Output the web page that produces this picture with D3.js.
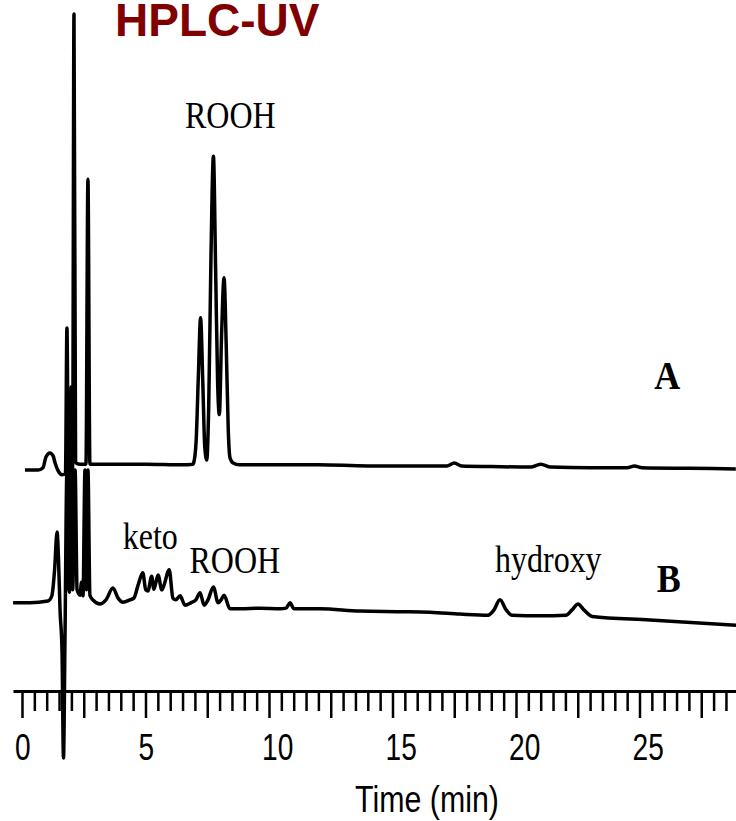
<!DOCTYPE html>
<html>
<head>
<meta charset="utf-8">
<script src="https://cdn.jsdelivr.net/npm/d3@7"></script>
<style>
  html, body { margin: 0; padding: 0; background: #fff; }
  svg { display: block; }
</style>
</head>
<body>
<svg id="chart" width="736" height="821"></svg>
<script>
// ---- data (time in min, signal in arbitrary absorbance units) ----
const timeA = [0.12, 0.65, 0.85, 0.97, 1.13, 1.26, 1.34, 1.46, 1.62, 1.76, 1.82, 1.88, 1.94, 2.05, 2.105, 2.17, 2.23, 2.35, 2.59, 2.67, 2.75, 3.0, 5.0, 6.5, 6.92,
  6.95, 7.05, 7.14, 7.23, 7.32, 7.40, 7.48, 7.56, 7.65, 7.75, 7.84, 7.92, 7.99, 8.08, 8.18, 8.27, 8.35, 8.42, 8.55, 8.8,
  10, 12, 14, 17.2, 17.5, 17.8, 19, 20.6, 21.0, 21.4, 23, 24.5, 24.8, 25.1, 27, 28.9];
const signalA = [-0.9, -0.9, -0.5, 1.3, 2.0, 1.5, 0.3, -1.0, -1.7, -1.5, 23.2, -1.5, -1.7, -1.0, 76.4, 0.5, 0.2, 0.1, 0.1, 48.4, 0.1, 0.1, 0.1, 0.0, 0.1,
  0.3, 4, 15, 24.9, 14, 3, 0.8, 10, 35, 52.3, 33, 14, 8.5, 22, 31.7, 20, 6, 1.2, 0.3, 0.0,
  0.0, 0.0, -0.2, -0.2, 0.3, -0.2, -0.3, -0.4, 0.1, -0.4, -0.5, -0.5, -0.2, -0.5, -0.6, -0.7];

const timeB = [-0.36, 0.32, 1.05, 1.21, 1.32, 1.42, 1.48, 1.54, 1.62, 1.68, 1.74, 1.82, 1.88, 1.92, 1.98, 2.05, 2.15, 2.23, 2.35, 2.41, 2.47, 2.55, 2.61, 2.67, 2.75, 2.87,
  3.16, 3.40, 3.68, 3.89, 4.09, 4.37, 4.53, 4.70, 4.89, 5.01, 5.10, 5.25, 5.34, 5.51, 5.66, 5.75, 5.96, 6.11, 6.23, 6.40, 6.60, 6.84,
  7.04, 7.21, 7.37, 7.53, 7.75, 7.94, 8.06, 8.18, 8.42, 8.83, 9.64, 10.45, 10.69, 10.85, 11.01, 12.06, 13.68, 15.30, 16.52, 17.73,
  18.87, 19.11, 19.35, 19.60, 19.84, 20.97, 22.02, 22.27, 22.51, 22.75, 23.08, 25.43, 28.91];
const signalB = [0.2, 0.2, 0.5, 1.4, 5.8, 12.2, 7.5, -1.0, -7.8, -26.1, -6.1, 22.7, 3.2, 2.0, 36.8, 2.4, 22.7, 2.4, 1.5, 3.7, 1.4, 22.7, 2.4, 22.7, 1.5, 0.7,
  0.0, 0.7, 2.7, 1.0, 0.3, 0.7, 1.0, 3.2, 5.3, 2.4, 2.2, 4.7, 2.5, 4.9, 2.4, 3.2, 5.8, 1.0, 0.7, 1.4, -0.2, 0.2,
  0.7, 1.9, -0.2, 0.7, 2.9, 0.2, 0.7, 1.5, -0.8, -0.8, -0.7, -0.8, -0.7, 0.2, -0.8, -0.8, -1.2, -1.3, -1.4, -1.7,
  -1.9, -1.0, 0.7, -1.0, -1.9, -2.0, -1.9, -1.0, 0.0, -1.0, -2.1, -2.7, -3.6];

const offsetA = 23.6;   // vertical offset of trace A (signal units)
const offsetB = 0;

const tickValues = d3.range(0, 29, 0.5);
const labelValues = [0, 5, 10, 15, 20, 25];
const titleText = "HPLC-UV";
const axisTitle = "Time (min)";
const peakLabels = [
  { text: "ROOH", t: 6.6, v: offsetA + 57 },
  { text: "keto", t: 4.08, v: 9.3 },
  { text: "ROOH", t: 6.78, v: 5.2 },
  { text: "hydroxy", t: 19.15, v: 5.5 }
];
const traceLabels = [
  { text: "A", t: 25.6, v: offsetA + 12.8 },
  { text: "B", t: 25.7, v: 2.0 }
];

// ---- scales ----
const svg = d3.select("#chart");
const x = d3.scaleLinear().domain([-0.364, 28.907]).range([13, 736]);
const y = d3.scaleLinear().domain([0, 100]).range([604, 14]);

// ---- axis ----
const axisY = 691;
const axis = d3.axisBottom(x).tickValues(tickValues).tickSize(20).tickSizeOuter(0).tickFormat("");
const gAxis = svg.append("g").attr("transform", `translate(0,${axisY})`).call(axis);
gAxis.select(".domain").attr("stroke", "#000").attr("stroke-width", 3);
gAxis.selectAll(".tick line")
  .attr("stroke", "#000").attr("stroke-width", 2.5)
  .attr("y2", d => (Math.abs(d / 2.5 - Math.round(d / 2.5)) < 1e-9 ? 27 : 20));

svg.append("g").selectAll("text").data(labelValues).join("text")
  .attr("transform", d => `translate(${x(d) - 7},760) scale(0.76,1)`)
  .attr("font-family", "'Liberation Sans', Arial, sans-serif")
  .attr("font-size", 37)
  .attr("fill", "#000")
  .text(d => d);

svg.append("text")
  .attr("transform", `translate(427,812) scale(0.82,1)`)
  .attr("text-anchor", "middle")
  .attr("font-family", "'Liberation Sans', Arial, sans-serif")
  .attr("font-size", 37)
  .attr("fill", "#000")
  .text(axisTitle);

// ---- traces ----
const line = d3.line().x(d => x(d[0])).y(d => y(d[1])).curve(d3.curveMonotoneX);
const dataA = timeA.map((t, i) => [t, signalA[i] + offsetA]);
const dataB = timeB.map((t, i) => [t, signalB[i] + offsetB]);

svg.append("path").datum(dataB).attr("d", line)
  .attr("fill", "none").attr("stroke", "#000").attr("stroke-width", 3.5).attr("stroke-linejoin", "round");
svg.append("path").datum(dataA).attr("d", line)
  .attr("fill", "none").attr("stroke", "#000").attr("stroke-width", 3.5).attr("stroke-linejoin", "round");

// ---- labels ----
svg.append("text")
  .attr("x", 115).attr("y", 36)
  .attr("font-family", "'Liberation Sans', Arial, sans-serif")
  .attr("font-weight", "bold")
  .attr("font-size", 46)
  .attr("fill", "#800000")
  .text(titleText);

svg.append("g").selectAll("text").data(peakLabels).join("text")
  .attr("transform", d => `translate(${x(d.t)},${y(d.v)}) scale(1,1.17)`)
  .attr("font-family", "'Liberation Serif', 'Times New Roman', serif")
  .attr("font-size", 32)
  .attr("fill", "#000")
  .text(d => d.text);

svg.append("g").selectAll("text").data(traceLabels).join("text")
  .attr("transform", d => `translate(${x(d.t)},${y(d.v)}) scale(1,1.12)`)
  .attr("font-family", "'Liberation Serif', 'Times New Roman', serif")
  .attr("font-weight", "bold")
  .attr("font-size", 36)
  .attr("fill", "#000")
  .text(d => d.text);
</script>
</body>
</html>
